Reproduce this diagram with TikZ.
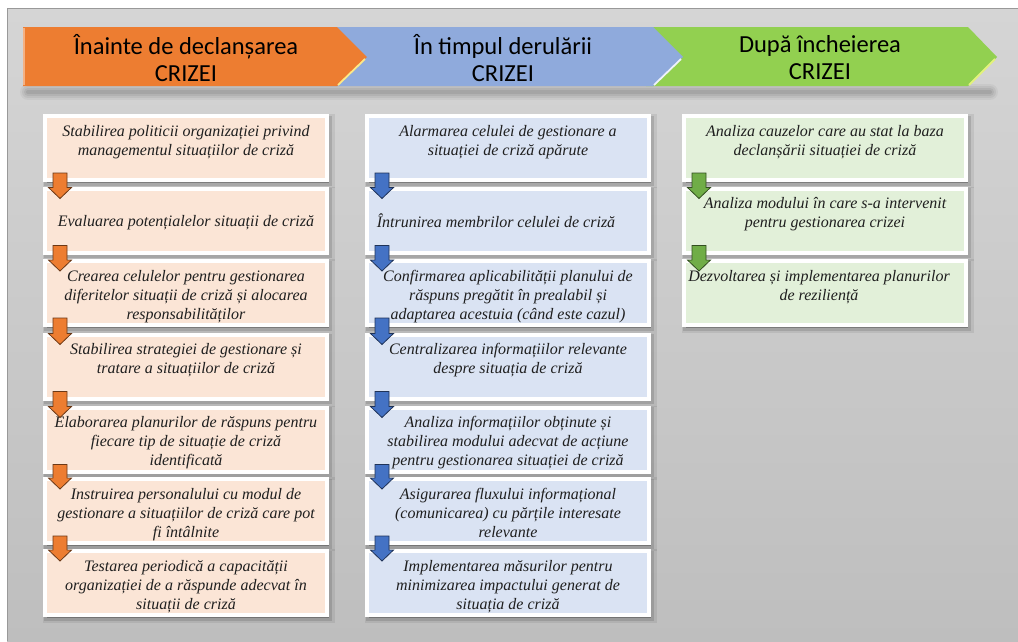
\documentclass[tikz,border=0pt]{standalone}
\usepackage{fontspec}
\setmainfont{Liberation Serif}
\newfontfamily\headfont{Carlito}
\usetikzlibrary{calc}

\definecolor{orng}{HTML}{ED7D31}
\definecolor{blu}{HTML}{8FAADC}
\definecolor{grn}{HTML}{92D050}
\definecolor{orngbox}{HTML}{FBE5D6}
\definecolor{blubox}{HTML}{DAE3F3}
\definecolor{grnbox}{HTML}{E2F0D9}
\definecolor{orngarrow}{HTML}{ED7D31}
\definecolor{bluarrow}{HTML}{4472C4}
\definecolor{grnarrow}{HTML}{70AD47}
\definecolor{paneltop}{HTML}{D5D5D5}
\definecolor{panelbot}{HTML}{BEBEBE}
\definecolor{ink}{HTML}{1F1F1F}

% block arrow pointing down from one step box into the next
\newcommand{\flowarrow}[3]{%
  \filldraw[fill=#3, draw=#3!45!black, line width=0.8pt]
    let \p1=($(#1.south west)+(15,-7)$), \p2=($(#2.north west)+(15,10)$) in
    (\x1-7pt,\y1) -- (\x1+7pt,\y1) -- (\x1+7pt,\y2+11pt) -- (\x1+11.5pt,\y2+11pt)
    -- (\x1,\y2) -- (\x1-11.5pt,\y2+11pt) -- (\x1-7pt,\y2+11pt) -- cycle;}

\begin{document}
\begin{tikzpicture}[x=1pt,y=-1pt,
  stepbox/.style={rectangle, draw=white, line width=4pt,
    minimum width=282pt, minimum height=64pt, inner sep=0pt, outer sep=0pt,
    anchor=north west,
    preaction={draw=black, draw opacity=.07, line width=10pt,
      transform canvas={shift={(2.5pt,-3pt)}}},
    preaction={fill=black, fill opacity=.25, draw=black, draw opacity=.12,
      line width=6pt, transform canvas={shift={(2pt,-2.5pt)}}}},
  steptext/.style={inner sep=0pt, align=center, text=ink,
    font=\fontsize{16}{19}\selectfont\itshape},
  headtext/.style={inner sep=0pt, align=center, text=black,
    font=\headfont\fontsize{24.5}{27}\selectfont},
]
\useasboundingbox (0,0) rectangle (1018,641);

% grey panel
\shade[top color=paneltop, bottom color=panelbot] (7,8) rectangle (1018,641);
\draw[line width=1pt, color=black!40] (7.5,641) -- (7.5,8.5) -- (1018,8.5);

% soft shadow under the phase banner
\foreach \w/\o in {16/.04, 12/.05, 8/.06, 4/.07}
  \draw[line width=\w pt, black, opacity=\o, line cap=round]
    (28,92) -- (990,92);

% phase banner (drawn right to left so each tip overlaps the next phase)
\fill[grn] (646,27) -- (968,27) -- (997,57) -- (968,86) -- (646,86) -- cycle;
\draw[line width=1.8pt, color=grn!45!yellow!60!white] (969,85) -- (995,59);
\fill[blu] (330,27) -- (653,27) -- (683,57) -- (653,86) -- (330,86) -- cycle;
\draw[line width=1.8pt, color=white!85!blu] (654,85) -- (681,59);
\fill[orng] (23,27) -- (337,27) -- (367,57) -- (337,86) -- (23,86) -- cycle;
\draw[line width=1.8pt, color=orng!35!yellow!50!white] (338,85) -- (365,59);
\draw[line width=1.8pt, color=orng!60!white] (24,28) -- (24,85);

\node[headtext] (h1) at (186,58) {Înainte de declanșarea\\CRIZEI};
\node[headtext] (h2) at (503,58) {În timpul derulării\\CRIZEI};
\node[headtext] (h3) at (820,58) {După încheierea\\CRIZEI};

% before the crisis
\node[stepbox, fill=orngbox] (a1) at (45,116) {};
\node[stepbox, fill=orngbox] (a2) at (45,188.5) {};
\node[stepbox, fill=orngbox] (a3) at (45,261) {};
\node[stepbox, fill=orngbox] (a4) at (45,334.5) {};
\node[stepbox, fill=orngbox] (a5) at (45,407.5) {};
\node[stepbox, fill=orngbox] (a6) at (45,479) {};
\node[stepbox, fill=orngbox] (a7) at (45,551) {};

% during the crisis
\node[stepbox, fill=blubox] (b1) at (367,116) {};
\node[stepbox, fill=blubox] (b2) at (367,188.5) {};
\node[stepbox, fill=blubox] (b3) at (367,261) {};
\node[stepbox, fill=blubox] (b4) at (367,334.5) {};
\node[stepbox, fill=blubox] (b5) at (367,407.5) {};
\node[stepbox, fill=blubox] (b6) at (367,479) {};
\node[stepbox, fill=blubox] (b7) at (367,551) {};

% after the crisis
\node[stepbox, fill=grnbox] (c1) at (684,116) {};
\node[stepbox, fill=grnbox] (c2) at (684,188.5) {};
\node[stepbox, fill=grnbox] (c3) at (684,261) {};

% step texts
\node[steptext, anchor=north] (a1t) at ($(a1.north)+(0,9)$) {Stabilirea politicii organizației privind\\managementul situațiilor de criză};
\node[steptext] (a2t) at ($(a2.center)+(0,2)$) {Evaluarea potențialelor situații de criză};
\node[steptext, anchor=north] (a3t) at ($(a3.north)+(0,9)$) {Crearea celulelor pentru gestionarea\\diferitelor situații de criză și alocarea\\responsabilităților};
\node[steptext, anchor=north] (a4t) at ($(a4.north)+(0,9)$) {Stabilirea strategiei de gestionare și\\tratare a situațiilor de criză};
\node[steptext, anchor=north] (a5t) at ($(a5.north)+(0,9)$) {Elaborarea planurilor de răspuns pentru\\fiecare tip de situație de criză\\identificată};
\node[steptext, anchor=north] (a6t) at ($(a6.north)+(0,9)$) {Instruirea personalului cu modul de\\gestionare a situațiilor de criză care pot\\fi întâlnite};
\node[steptext, anchor=north] (a7t) at ($(a7.north)+(0,9)$) {Testarea periodică a capacității\\organizației de a răspunde adecvat în\\situații de criză};

\node[steptext, anchor=north] (b1t) at ($(b1.north)+(0,9)$) {Alarmarea celulei de gestionare a\\situației de criză apărute};
\node[steptext] (b2t) at ($(b2.center)+(-12,0)$) {Întrunirea membrilor celulei de criză};
\node[steptext, anchor=north] (b3t) at ($(b3.north)+(0,9)$) {Confirmarea aplicabilității planului de\\răspuns pregătit în prealabil și\\adaptarea acestuia (când este cazul)};
\node[steptext, anchor=north] (b4t) at ($(b4.north)+(0,9)$) {Centralizarea informațiilor relevante\\despre situația de criză};
\node[steptext, anchor=north] (b5t) at ($(b5.north)+(0,9)$) {Analiza informațiilor obținute și\\stabilirea modului adecvat de acțiune\\pentru gestionarea situației de criză};
\node[steptext, anchor=north] (b6t) at ($(b6.north)+(0,9)$) {Asigurarea fluxului informațional\\(comunicarea) cu părțile interesate\\relevante};
\node[steptext, anchor=north] (b7t) at ($(b7.north)+(0,9)$) {Implementarea măsurilor pentru\\minimizarea impactului generat de\\situația de criză};

\node[steptext, anchor=north] (c1t) at ($(c1.north)+(0,9)$) {Analiza cauzelor care au stat la baza\\declanșării situației de criză};
\node[steptext, anchor=north] (c2t) at ($(c2.north)+(0,9)$) {Analiza modului în care s-a intervenit\\pentru gestionarea crizei};
\node[steptext, anchor=north] (c3t) at ($(c3.north)+(-6,9)$) {Dezvoltarea și implementarea planurilor\\de reziliență};

% arrows between consecutive steps
\flowarrow{a1}{a2}{orngarrow}
\flowarrow{a2}{a3}{orngarrow}
\flowarrow{a3}{a4}{orngarrow}
\flowarrow{a4}{a5}{orngarrow}
\flowarrow{a5}{a6}{orngarrow}
\flowarrow{a6}{a7}{orngarrow}
\flowarrow{b1}{b2}{bluarrow}
\flowarrow{b2}{b3}{bluarrow}
\flowarrow{b3}{b4}{bluarrow}
\flowarrow{b4}{b5}{bluarrow}
\flowarrow{b5}{b6}{bluarrow}
\flowarrow{b6}{b7}{bluarrow}
\flowarrow{c1}{c2}{grnarrow}
\flowarrow{c2}{c3}{grnarrow}
\end{tikzpicture}
\end{document}
